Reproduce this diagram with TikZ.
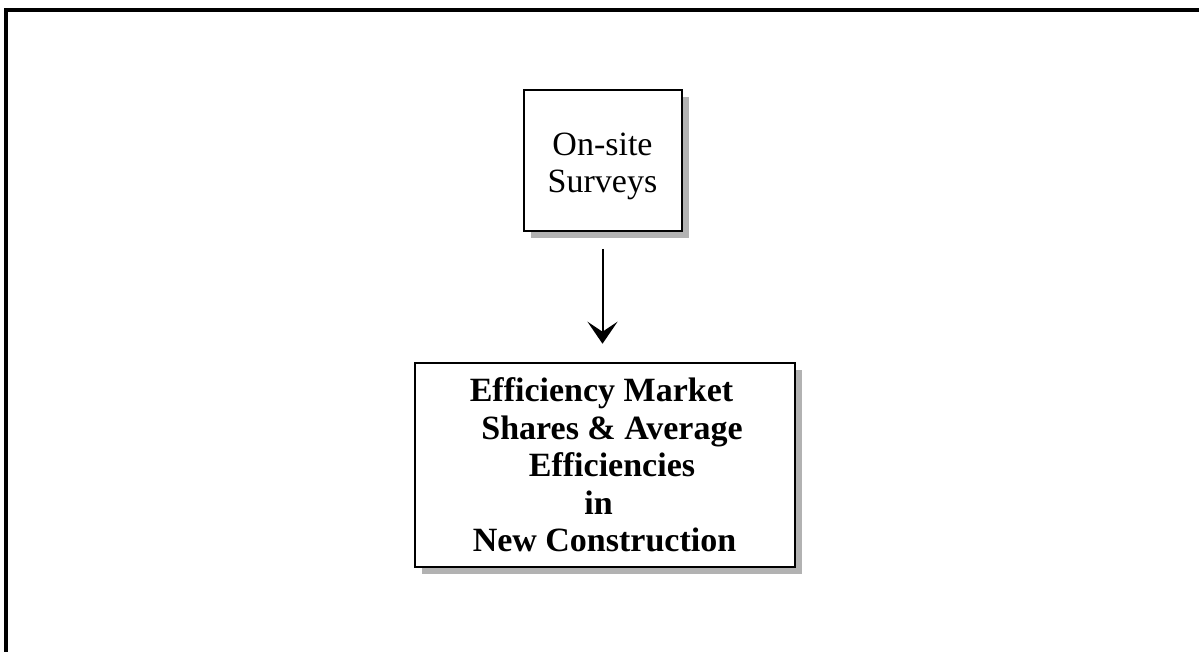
\documentclass[tikz,border=0pt]{standalone}
\usepackage{fontspec}
\setmainfont{Liberation Serif}
\usetikzlibrary{arrows.meta,shadows}
\begin{document}
\begin{tikzpicture}[x=0.5pt,y=-0.5pt,
  box/.style={draw, line width=1pt, fill=white, inner sep=0pt, align=center,
    drop shadow={shadow xshift=3.5pt, shadow yshift=-3.5pt, fill=black!30, opacity=1}},
  flow/.style={line width=1pt, -{Stealth[length=11pt,width=15pt,inset=5pt]}}]
\useasboundingbox (0,0) rectangle (1199,652);
\clip (0,0) rectangle (1199,652);
% page frame (top and left edges)
\draw[line width=2pt] (6,670) -- (6,10) -- (1215,10);
% source box
\node[box, minimum width=79pt, minimum height=70.5pt,
  font=\fontsize{17pt}{18.5pt}\selectfont] (survey) at (602.5,161)
  {\rule{0pt}{16.6pt}On-site\\Surveys};
% result box
\node[box, minimum width=190pt, minimum height=102.25pt,
  font=\bfseries\fontsize{17pt}{18.75pt}\selectfont] (share) at (604.5,465)
  {Efficiency Market\kern3pt\\
   \kern7.5pt Shares \& Average\\
   \kern7.5pt Efficiencies\\
   in\kern6pt\\
   New Construction};
% connector
\draw[flow, shorten <=8.25pt, shorten >=9pt] (survey.south) -- (survey.south |- share.north);
\end{tikzpicture}
\end{document}
